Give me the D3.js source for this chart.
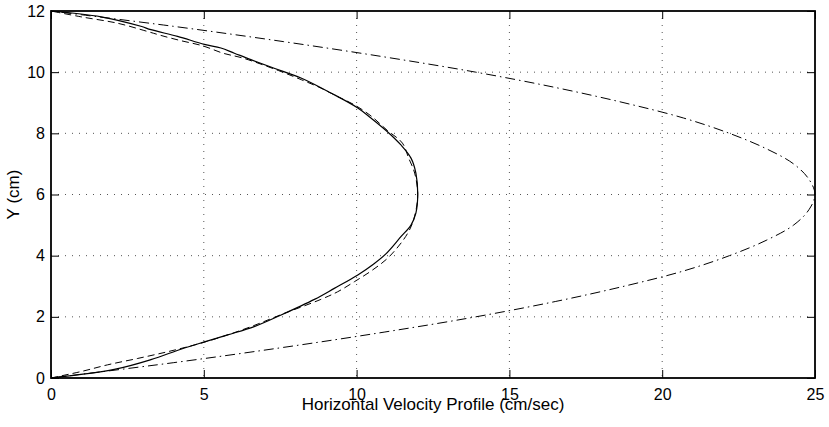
<!DOCTYPE html>
<html>
<head>
<meta charset="utf-8">
<script src="https://cdn.jsdelivr.net/npm/d3@7"></script>
<style>
  body { margin: 0; background: #fff; }
  svg { display: block; font-family: "Liberation Sans", Arial, Helvetica, sans-serif; }
  .grid line { stroke: #555; stroke-width: 1; stroke-dasharray: 1,6; }
</style>
</head>
<body>
<svg id="chart" width="829" height="427"></svg>
<script>
// Velocity profiles: [u (cm/sec), y (cm)]
const measured = [
  [0, 0], [2.07, 0.28], [3.27, 0.6], [4.25, 0.94], [5.02, 1.18], [5.78, 1.41],
  [6.65, 1.68], [7.53, 2.06], [8.62, 2.57], [9.27, 2.93], [10.04, 3.37], [10.55, 3.72],
  [10.95, 4.05], [11.45, 4.62], [11.78, 5.0], [11.94, 5.39], [12.0, 6.0], [11.94, 6.7],
  [11.78, 7.19], [11.45, 7.62], [11.0, 8.06], [10.47, 8.5], [10.04, 8.83], [9.16, 9.32],
  [8.18, 9.81], [7.3, 10.13], [6.54, 10.41], [6.0, 10.62], [5.56, 10.79], [5.02, 10.91],
  [4.14, 11.17], [3.27, 11.39], [2.94, 11.5], [1.64, 11.81], [0, 12]
];
const model = [
  [0, 0], [0.98, 0.21], [1.85, 0.43], [2.84, 0.64], [3.82, 0.86], [4.69, 1.08],
  [5.6, 1.35], [6.6, 1.7], [7.6, 2.1], [8.83, 2.57], [9.38, 2.82], [9.93, 3.15],
  [10.52, 3.53], [11.07, 3.97], [11.67, 4.73], [11.9, 5.3], [12.0, 6.0], [11.9, 6.7],
  [11.7, 7.2], [11.5, 7.68], [11.0, 8.1], [10.47, 8.57], [9.93, 8.93], [9.38, 9.2],
  [8.83, 9.48], [8.2, 9.75], [7.45, 10.05], [6.28, 10.46], [5.63, 10.62], [4.97, 10.86],
  [4.25, 11.03], [3.6, 11.2], [3.16, 11.33], [2.18, 11.6], [0.98, 11.81], [0, 12]
];
const plug = [
  [0, 0], [4.0, 0.5], [7.6, 1.0], [10.9, 1.5], [13.9, 2.0], [16.5, 2.5], [18.75, 3.0],
  [20.7, 3.5], [22.2, 4.0], [23.4, 4.5], [24.3, 5.0], [24.8, 5.5], [25.0, 6.0],
  [24.8, 6.5], [24.3, 7.0], [23.4, 7.5], [22.2, 8.0], [20.7, 8.5], [18.75, 9.0],
  [16.5, 9.5], [13.9, 10.0], [10.9, 10.5], [7.6, 11.0], [4.0, 11.5], [0, 12]
];
const xTicks = [0, 5, 10, 15, 20, 25];
const yTicks = [0, 2, 4, 6, 8, 10, 12];

const margin = { left: 51, right: 14, top: 11, bottom: 49 };
const W = 829, H = 427;
const w = W - margin.left - margin.right;
const h = H - margin.top - margin.bottom;
const tickFont = 16;
const titleFont = 17;

const svg = d3.select('#chart');
const g = svg.append('g').attr('transform', `translate(${margin.left},${margin.top})`);

const x = d3.scaleLinear().domain([0, 25]).range([0, w]);
const y = d3.scaleLinear().domain([0, 12]).range([h, 0]);

// dotted grid
const grid = g.append('g').attr('class', 'grid');
grid.selectAll('line.v').data(xTicks.slice(1, -1)).join('line')
  .attr('x1', x).attr('x2', x).attr('y1', 0).attr('y2', h);
grid.selectAll('line.h').data(yTicks.slice(1, -1)).join('line')
  .attr('y1', y).attr('y2', y).attr('x1', 0).attr('x2', w);

// ticks on all four sides, pointing inward
const tk = 8;
const axisB = g.append('g').attr('transform', `translate(0,${h})`)
  .call(d3.axisBottom(x).tickValues(xTicks).tickSize(-tk).tickPadding(11));
const axisT = g.append('g')
  .call(d3.axisTop(x).tickValues(xTicks).tickSize(-tk).tickFormat(''));
const axisL = g.append('g')
  .call(d3.axisLeft(y).tickValues(yTicks).tickSize(-tk).tickPadding(6));
const axisR = g.append('g').attr('transform', `translate(${w},0)`)
  .call(d3.axisRight(y).tickValues(yTicks).tickSize(-tk).tickFormat(''));
[axisB, axisT, axisL, axisR].forEach((a) => {
  a.attr('font-size', tickFont).attr('font-family', null);
  a.select('.domain').remove();
  a.selectAll('.tick line').attr('stroke', '#000').attr('stroke-width', 1);
  a.selectAll('.tick text').attr('fill', '#000');
});

// curves
const line = d3.line().x((d) => x(d[0])).y((d) => y(d[1])).curve(d3.curveCatmullRom.alpha(0.5));
g.append('path').datum(plug).attr('d', line)
  .attr('fill', 'none').attr('stroke', '#000').attr('stroke-width', 1)
  .attr('stroke-dasharray', '10,4,1.5,4');
g.append('path').datum(model).attr('d', line)
  .attr('fill', 'none').attr('stroke', '#000').attr('stroke-width', 1)
  .attr('stroke-dasharray', '7,4');
g.append('path').datum(measured).attr('d', line)
  .attr('fill', 'none').attr('stroke', '#000').attr('stroke-width', 1.2);

// frame
g.append('rect').attr('x', 0).attr('y', 0).attr('width', w).attr('height', h)
  .attr('fill', 'none').attr('stroke', '#000').attr('stroke-width', 1.8);

// axis titles
svg.append('text').attr('x', margin.left + w / 2).attr('y', 410)
  .attr('text-anchor', 'middle').attr('font-size', titleFont)
  .text('Horizontal Velocity Profile (cm/sec)');
svg.append('text')
  .attr('transform', `translate(19,${margin.top + h / 2}) rotate(-90)`)
  .attr('text-anchor', 'middle').attr('font-size', titleFont)
  .text('Y (cm)');
</script>
</body>
</html>
